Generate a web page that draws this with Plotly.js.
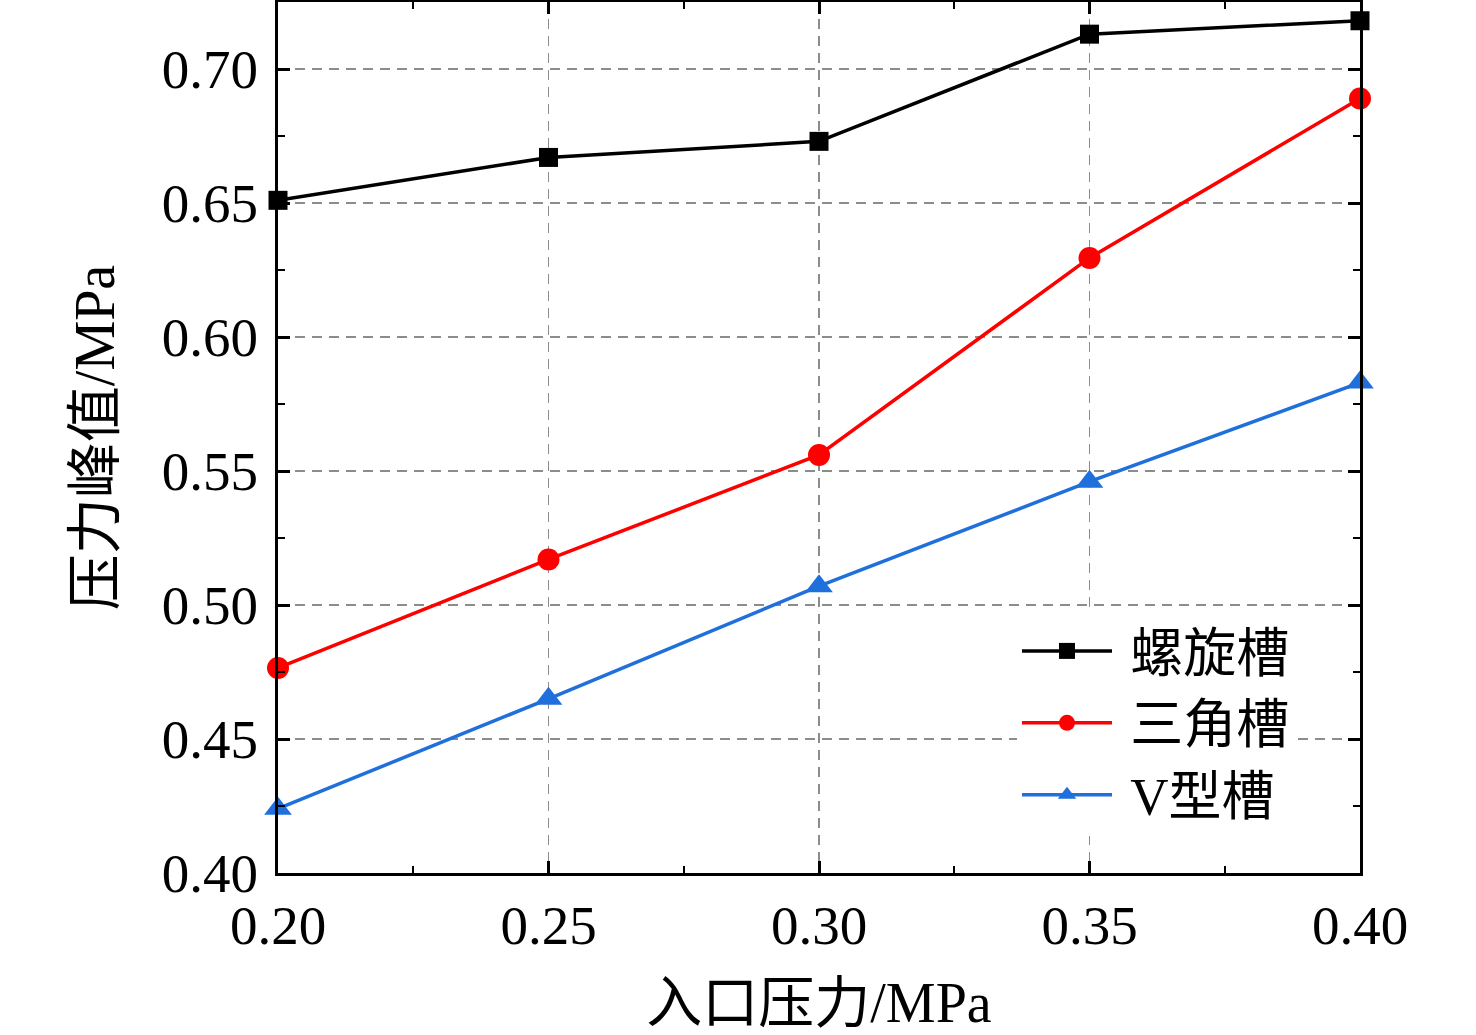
<!DOCTYPE html>
<html>
<head>
<meta charset="utf-8">
<script src="https://cdn.plot.ly/plotly-3.0.1.min.js"></script>
<style>html,body{margin:0;padding:0;background:#fff;}#chart{width:1476px;height:1035px;}</style>
</head>
<body>
<div id="chart"></div>
<script>
const inletPressure = [0.20, 0.25, 0.30, 0.35, 0.40];
const spiralGroove = [0.651, 0.667, 0.673, 0.713, 0.718];
const triangleGroove = [0.4765, 0.517, 0.556, 0.6295, 0.689];
const vGroove = [0.424, 0.465, 0.507, 0.546, 0.583];
const seriesNames = ['螺旋槽', '三角槽', 'V型槽'];
const xTickVals = [0.20, 0.25, 0.30, 0.35, 0.40];
const xTickText = ['0.20', '0.25', '0.30', '0.35', '0.40'];
const yTickVals = [0.40, 0.45, 0.50, 0.55, 0.60, 0.65, 0.70];
const yTickText = ['0.40', '0.45', '0.50', '0.55', '0.60', '0.65', '0.70'];

const FONT = '"Liberation Serif", "Times New Roman", "Noto Sans CJK SC", serif';
const legendName = n => '\u00a0' + n;

const traces = [
  {x: inletPressure, y: spiralGroove, name: legendName(seriesNames[0]), mode: 'lines+markers',
   line: {color: '#000000', width: 3.5}, marker: {symbol: 'square', size: 19, color: '#000000'}, cliponaxis: false},
  {x: inletPressure, y: triangleGroove, name: legendName(seriesNames[1]), mode: 'lines+markers',
   line: {color: '#ff0000', width: 3.5}, marker: {symbol: 'circle', size: 22, color: '#ff0000'}, cliponaxis: false},
  {x: inletPressure, y: vGroove, name: legendName(seriesNames[2]), mode: 'lines+markers',
   line: {color: '#1f6fdc', width: 3.5}, marker: {symbol: 'triangle-up', size: 24, color: '#1f6fdc'}, cliponaxis: false}
];

const axisCommon = {
  showline: true, linecolor: '#000', linewidth: 3, mirror: 'ticks',
  ticks: 'inside', ticklen: 12, tickwidth: 3, tickcolor: '#000',
  showgrid: true, gridcolor: '#8c8c8c', gridwidth: 1.5, griddash: '10px,7px',
  zeroline: false, tickfont: {family: FONT, size: 55, color: '#000'}
};

const layout = {
  width: 1476, height: 1035,
  margin: {l: 278, r: 116, t: 2, b: 162},
  paper_bgcolor: '#fff', plot_bgcolor: '#fff',
  font: {family: FONT, color: '#000'},
  xaxis: Object.assign({}, axisCommon, {
    range: [0.20, 0.40], tickvals: xTickVals, ticktext: xTickText,
    ticklabelstandoff: 2,
    minor: {dtick: 0.025, ticks: 'inside', ticklen: 7, tickwidth: 2, tickcolor: '#000', showgrid: false},
    title: {text: '入口压力/MPa', font: {family: FONT, size: 56, color: '#000'}, standoff: 28}
  }),
  yaxis: Object.assign({}, axisCommon, {
    range: [0.40, 0.725], tickvals: yTickVals, ticktext: yTickText,
    ticklabelstandoff: 6,
    minor: {dtick: 0.025, ticks: 'inside', ticklen: 7, tickwidth: 2, tickcolor: '#000', showgrid: false},
    title: {text: '压力峰值/MPa', font: {family: FONT, size: 56, color: '#000'}, standoff: 30}
  }),
  legend: {
    x: 0.683, y: 0.302, xanchor: 'left', yanchor: 'top',
    bgcolor: '#ffffff', borderwidth: 0,
    font: {family: FONT, size: 53, color: '#000'},
    itemwidth: 90, tracegroupgap: 0
  },
  showlegend: true
};

Plotly.newPlot('chart', traces, layout, {displayModeBar: false, staticPlot: true});
</script>
</body>
</html>
